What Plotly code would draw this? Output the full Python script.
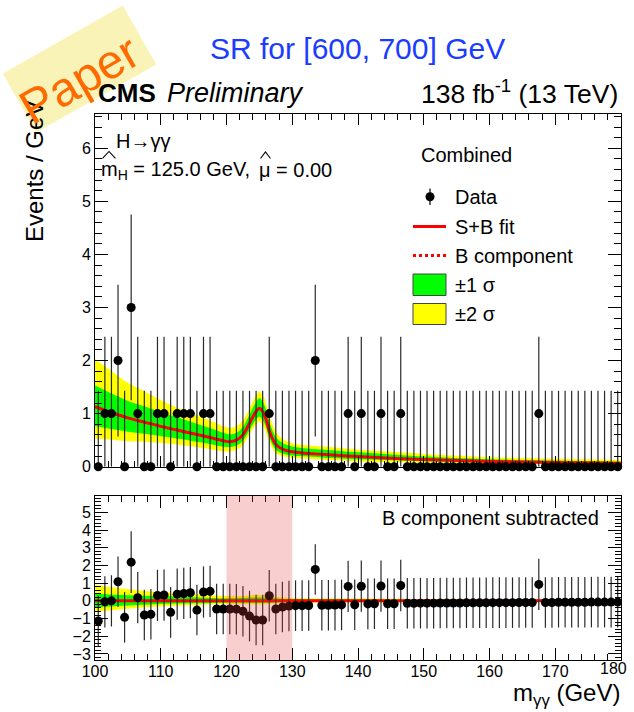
import math
import numpy as np
import plotly.graph_objects as go

# ---------------------------------------------------------------- data
mass_centers = np.arange(100.5, 180.0, 1.0)          # 1 GeV bins, 100-180 GeV

events = [0, 1, 1, 2, 0, 3, 1, 0, 0, 1,
          1, 0, 1, 1, 1, 0, 1, 1, 0, 0,
          0, 0, 0, 0, 0, 0, 1, 0, 0, 0,
          0, 0, 0, 2, 0, 0, 0, 0, 1, 0,
          1, 0, 0, 1, 0, 0, 1, 0, 0, 0,
          0, 0, 0, 0, 0, 0, 0, 0, 0, 0,
          0, 0, 0, 0, 0, 0, 0, 1, 0, 0,
          0, 0, 0, 0, 0, 0, 0, 0, 0, 0]

# data minus B component
residuals = [-1.14, -0.05, 0.00, 1.08, -0.93, 2.19, 0.18, -0.80, -0.76, 0.31,
             0.33, -0.65, 0.38, 0.42, 0.46, -0.52, 0.50, 0.54, -0.46, -0.46,
             -0.46, -0.47, -0.59, -0.86, -1.08, -1.08, 0.29, -0.46, -0.35, -0.29,
             -0.27, -0.27, -0.26, 1.78, -0.25, -0.25, -0.24, -0.23, 0.82, -0.22,
             0.83, -0.17, -0.16, 0.84, -0.16, -0.16, 0.87, -0.14, -0.14, -0.13,
             -0.13, -0.13, -0.12, -0.12, -0.12, -0.12, -0.11, -0.11, -0.11, -0.11,
             -0.10, -0.10, -0.10, -0.10, -0.09, -0.09, -0.09, 0.93, -0.09, -0.09,
             -0.08, -0.08, -0.08, -0.08, -0.08, -0.07, -0.07, -0.07, -0.07, -0.07]

# statistical uncertainty per bin, by observed count
stat_error = {0: 1.43, 1: 1.45, 2: 1.43, 3: 1.75}

# S+B fit with its +-1 sigma / +-2 sigma envelopes
fit_mass = [100, 102.5, 105, 107.5, 110, 112.5, 115, 117.5, 119.5, 120.5,
            121.5, 122.5, 123.5, 124.5, 125, 125.5, 126, 126.5, 127.5, 128.5,
            130, 132.5, 135, 140, 145, 150, 160, 170, 180]
fit_sb = [1.13, 1.02, 0.92, 0.84, 0.76, 0.69, 0.62, 0.55, 0.49, 0.47,
          0.50, 0.60, 0.82, 1.04, 1.10, 1.04, 0.90, 0.68, 0.42, 0.33,
          0.28, 0.25, 0.23, 0.19, 0.16, 0.135, 0.10, 0.078, 0.063]
fit_1s_lo = [0.76, 0.71, 0.66, 0.62, 0.58, 0.53, 0.48, 0.43, 0.38, 0.37,
             0.40, 0.49, 0.69, 0.89, 0.94, 0.88, 0.75, 0.55, 0.32, 0.25,
             0.21, 0.19, 0.17, 0.14, 0.12, 0.10, 0.075, 0.057, 0.045]
fit_1s_hi = [1.53, 1.38, 1.24, 1.14, 1.03, 0.93, 0.83, 0.73, 0.64, 0.61,
             0.64, 0.75, 0.98, 1.22, 1.29, 1.23, 1.08, 0.85, 0.56, 0.45,
             0.38, 0.34, 0.32, 0.27, 0.23, 0.19, 0.14, 0.115, 0.095]
fit_2s_lo = [0.53, 0.51, 0.48, 0.47, 0.45, 0.42, 0.38, 0.33, 0.29, 0.29,
             0.32, 0.41, 0.61, 0.80, 0.85, 0.79, 0.66, 0.47, 0.26, 0.20,
             0.17, 0.15, 0.13, 0.10, 0.085, 0.073, 0.055, 0.042, 0.032]
fit_2s_hi = [2.03, 1.80, 1.58, 1.42, 1.25, 1.11, 0.99, 0.87, 0.76, 0.73,
             0.76, 0.87, 1.10, 1.34, 1.41, 1.35, 1.20, 0.97, 0.66, 0.53,
             0.44, 0.40, 0.38, 0.32, 0.28, 0.24, 0.18, 0.15, 0.13]

# envelopes after subtracting the B component
sub_mass = [100, 105, 110, 115, 120, 122.5, 125, 127.5, 130, 140, 160, 180]
sub_fit = [0, 0, 0, 0, 0, 0, 0, 0, 0, 0, 0, 0]
sub_1s_lo = [-0.36, -0.26, -0.18, -0.14, -0.10, -0.10, -0.11, -0.09, -0.07, -0.05, -0.025, -0.018]
sub_1s_hi = [0.40, 0.32, 0.27, 0.21, 0.15, 0.16, 0.19, 0.14, 0.10, 0.08, 0.04, 0.032]
sub_2s_lo = [-0.60, -0.44, -0.31, -0.24, -0.18, -0.18, -0.20, -0.15, -0.11, -0.09, -0.045, -0.03]
sub_2s_hi = [0.90, 0.66, 0.49, 0.37, 0.27, 0.28, 0.33, 0.24, 0.16, 0.13, 0.08, 0.07]

x_ticks = [100, 110, 120, 130, 140, 150, 160, 170, 180]
x_tick_text = ["100", "110", "120", "130", "140", "150", "160", "170", ""]
x_last_label = "180"   # drawn pulled inside the right edge

# ---------------------------------------------------------------- layout geometry
W, H = 634, 712
L, R, T, B = 95, 13, 114, 52
PW, PH = W - L - R, H - T - B


def paper(px, py):
    """pixel position -> paper coordinates"""
    return (px - L) / PW, (H - B - py) / PH


top_lo = paper(0, 466.7)[1]
bot_hi = paper(0, 495.7)[1]

FONT = "Liberation Sans, Arial, Helvetica, sans-serif"
YELLOW = "#ffff00"
GREEN = "#00ff00"
RED = "#ff0000"

fig = go.Figure()


def add_bands(xs, lo2, hi2, lo1, hi1, centre, xa, ya):
    for lo, hi, col in ((lo2, hi2, YELLOW), (lo1, hi1, GREEN)):
        fig.add_trace(go.Scatter(x=xs, y=lo, mode="lines", line=dict(width=0, shape="spline"),
                                 hoverinfo="skip", showlegend=False, xaxis=xa, yaxis=ya))
        fig.add_trace(go.Scatter(x=xs, y=hi, mode="lines", line=dict(width=0, shape="spline"),
                                 fill="tonexty", fillcolor=col, hoverinfo="skip",
                                 showlegend=False, xaxis=xa, yaxis=ya))
    fig.add_trace(go.Scatter(x=xs, y=centre, mode="lines",
                             line=dict(color=RED, width=3, shape="spline"),
                             showlegend=False, xaxis=xa, yaxis=ya))


# upper panel
add_bands(fit_mass, fit_2s_lo, fit_2s_hi, fit_1s_lo, fit_1s_hi, fit_sb, "x", "y")
err_up = [stat_error[n] for n in events]
err_dn = [min(stat_error[n], n) for n in events]
fig.add_trace(go.Scatter(
    x=mass_centers, y=events, mode="markers",
    marker=dict(color="black", size=9),
    error_y=dict(type="data", array=err_up, arrayminus=err_dn, symmetric=False,
                 color="#2a2a2a", thickness=1.2, width=0),
    cliponaxis=False, showlegend=False, xaxis="x", yaxis="y"))

# lower panel
add_bands(sub_mass, sub_2s_lo, sub_2s_hi, sub_1s_lo, sub_1s_hi, sub_fit, "x2", "y2")
res_err = [stat_error[n] for n in events]
fig.add_trace(go.Scatter(
    x=mass_centers, y=residuals, mode="markers",
    marker=dict(color="black", size=9),
    error_y=dict(type="data", array=res_err, color="#2a2a2a", thickness=1.2, width=0),
    showlegend=False, xaxis="x2", yaxis="y2"))

axis_common = dict(showline=True, linecolor="black", linewidth=1, mirror="ticks",
                   ticks="inside", tickcolor="black", showgrid=False, zeroline=False,
                   tickfont=dict(family=FONT, size=16, color="black"))

x_range = [99.999, 180.001]

fig.update_layout(
    width=W, height=H, margin=dict(l=L, r=R, t=T, b=B),
    paper_bgcolor="white", plot_bgcolor="white", showlegend=False,
    font=dict(family=FONT, color="black"),
    xaxis=dict(domain=[0, 1], range=x_range, anchor="y", tickvals=x_ticks,
               showticklabels=False, ticklen=11,
               minor=dict(dtick=2, ticklen=6, ticks="inside", tickcolor="black"),
               **axis_common),
    yaxis=dict(domain=[top_lo, 1], range=[0, 6.645], anchor="x", dtick=1, ticklen=13,
               minor=dict(dtick=0.2, ticklen=7, ticks="inside", tickcolor="black"),
               **axis_common),
    xaxis2=dict(domain=[0, 1], range=x_range, anchor="y2", tickvals=x_ticks,
                ticktext=x_tick_text, ticklen=12, ticklabelstandoff=-3,
                minor=dict(dtick=2, ticklen=6, ticks="inside", tickcolor="black"),
                **axis_common),
    yaxis2=dict(domain=[0, bot_hi], range=[-3.345, 5.95], anchor="x2", dtick=1, ticklen=13,
                minor=dict(dtick=0.2, ticklen=6, ticks="inside", tickcolor="black"),
                **axis_common),
)

# blinded signal window in the lower panel
fig.add_shape(type="rect", xref="x2", yref="y2 domain", x0=120, x1=130, y0=0, y1=1,
              fillcolor="rgba(228,60,60,0.25)", line=dict(width=0), layer="above")

# ---------------------------------------------------------------- legend (upper right)
def pshape(kind, p0, p1, **kw):
    x0, y0 = paper(*p0)
    x1, y1 = paper(*p1)
    fig.add_shape(type=kind, xref="paper", yref="paper", x0=x0, y0=y0, x1=x1, y1=y1, **kw)


def ppath(points, **kw):
    path = "M " + " L ".join("%.5f,%.5f" % paper(*p) for p in points)
    fig.add_shape(type="path", xref="paper", yref="paper", path=path, **kw)


pshape("line", (430, 188.5), (430, 205), line=dict(color="black", width=1.2))
pshape("circle", (425.5, 192.2), (434.5, 201.2), fillcolor="black", line=dict(width=0))
pshape("line", (413, 226.5), (446, 226.5), line=dict(color=RED, width=3))
pshape("line", (413, 255.5), (446, 255.5), line=dict(color=RED, width=3, dash="dot"))
pshape("rect", (413, 274), (446, 295.5), fillcolor=GREEN, line=dict(color="#444", width=1))
pshape("rect", (413, 303.5), (446, 324.5), fillcolor=YELLOW, line=dict(color="#444", width=1))


def text(px, py, s, size, xanchor="left", color="black", angle=0, family=FONT):
    x, y = paper(px, py)
    fig.add_annotation(x=x, y=y, xref="paper", yref="paper", text=s, showarrow=False,
                       xanchor=xanchor, yanchor="middle", textangle=angle,
                       font=dict(family=family, size=size, color=color))


text(419, 155, "Combined", 20)
text(453, 197, "Data", 20)
text(453, 226.5, "S+B fit", 20)
text(453, 256, "B component", 20)
text(453, 285, "±1 σ", 20)
text(453, 314, "±2 σ", 20)

# ---------------------------------------------------------------- labels
text(114, 141, "H→γγ", 20)
text(99, 170, "m<sub>H</sub> = 125.0 GeV,", 20)
text(257, 170, "μ = 0.00", 20)
# fitted-value hats over m and mu
hat = dict(line=dict(color="black", width=1.1))
ppath([(102.5, 158.5), (109, 151.5), (115.5, 158.5)], **hat)
ppath([(260.5, 158.5), (265.5, 152), (270.5, 158.5)], **hat)

text(601, 517.5, "B component subtracted", 20, xanchor="right")
text(613, 668, x_last_label, 16, xanchor="center")

text(357, 49, "SR for [600, 700] GeV", 30, xanchor="center", color="#1a3cff")
text(96, 93, "<b>CMS</b>", 26)
text(165, 93, "<i>Preliminary</i>", 27)
text(620, 92, "138 fb<sup>-1</sup> (13 TeV)", 26.5, xanchor="right")

text(35, 172, "Events / GeV", 24, xanchor="center", angle=-90)
text(622, 694, "m<sub>γγ</sub> (GeV)", 24, xanchor="right")

# ---------------------------------------------------------------- "Paper" stamp
cx, cy, half_w, half_h, ang = 79.5, 69.0, 69.0, 34.0, math.radians(29.5)
ux, uy = math.cos(ang), -math.sin(ang)
vx, vy = math.sin(ang), math.cos(ang)
corners = [(cx + a * half_w * ux + b * half_h * vx, cy + a * half_w * uy + b * half_h * vy)
           for a, b in ((-1, -1), (1, -1), (1, 1), (-1, 1))]
ppath(corners + [corners[0]], fillcolor="rgba(245,228,95,0.45)", line=dict(width=0),
      layer="above")
text(79, 79, "Paper", 48, xanchor="center", color="#ff6a00", angle=-30)

fig.write_html("out.html")
